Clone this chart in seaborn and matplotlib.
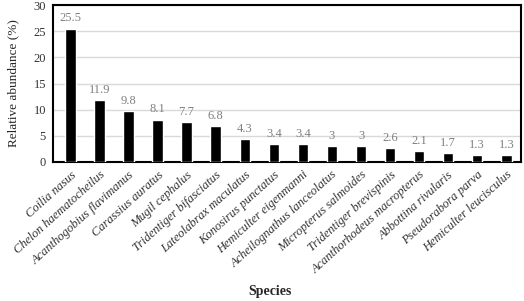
import matplotlib
matplotlib.use("Agg")
import matplotlib.pyplot as plt
import seaborn as sns
import pandas as pd

species = ["Coilia nasus", "Chelon haematocheilus", "Acanthogobius flavimanus",
           "Carassius auratus", "Mugil cephalus", "Tridentiger bifasciatus",
           "Lateolabrax maculatus", "Konosirus punctatus", "Hemiculter eigenmanni",
           "Acheilognathus lanceolatus", "Micropterus salmoides", "Tridentiger brevispinis",
           "Acanthorhodeus macropterus", "Abbottina rivularis", "Pseudorabora parva",
           "Hemiculter leucisculus"]
abundance = [25.5, 11.9, 9.8, 8.1, 7.7, 6.8, 4.3, 3.4, 3.4, 3, 3, 2.6, 2.1, 1.7, 1.3, 1.3]
value_labels = ["25.5", "11.9", "9.8", "8.1", "7.7", "6.8", "4.3", "3.4", "3.4",
                "3", "3", "2.6", "2.1", "1.7", "1.3", "1.3"]

df = pd.DataFrame({"species": species, "abundance": abundance})

sns.set_style("white")
plt.rcParams["font.family"] = ["Liberation Serif", "DejaVu Serif"]

fig = plt.figure(figsize=(5.24, 3.01), dpi=100)
ax = fig.add_axes([0.101, 0.462, 0.893, 0.521])

sns.barplot(data=df, x="species", y="abundance", color="black", width=0.36,
            saturation=1, ax=ax, zorder=3)

for i, (v, lab) in enumerate(zip(abundance, value_labels)):
    ax.text(i, v + 0.8, lab, ha="center", va="bottom", fontsize=9, color="#808080")

ax.set_ylim(0, 30)
ax.set_yticks(range(0, 31, 5))
ax.set_xlim(-0.6, 15.5)
ax.yaxis.grid(True, color="#d9d9d9", linewidth=1, zorder=0)
ax.set_axisbelow(True)
for s in ax.spines.values():
    s.set_color("black")
    s.set_linewidth(1.5)
ax.tick_params(axis="both", length=0, labelsize=9, pad=5, colors="#333333")
ax.set_xticks(range(len(species)))
ax.set_xticklabels(species, rotation=42, ha="right", rotation_mode="anchor",
                   fontsize=9, style="italic")
ax.set_ylabel("Relative abundance (%)", fontsize=9.5, labelpad=10)
ax.set_xlabel("")
fig.text(0.515, 0.02, "Species", ha="center", fontsize=10, fontweight="bold")

fig.savefig("out.png", dpi=100)
